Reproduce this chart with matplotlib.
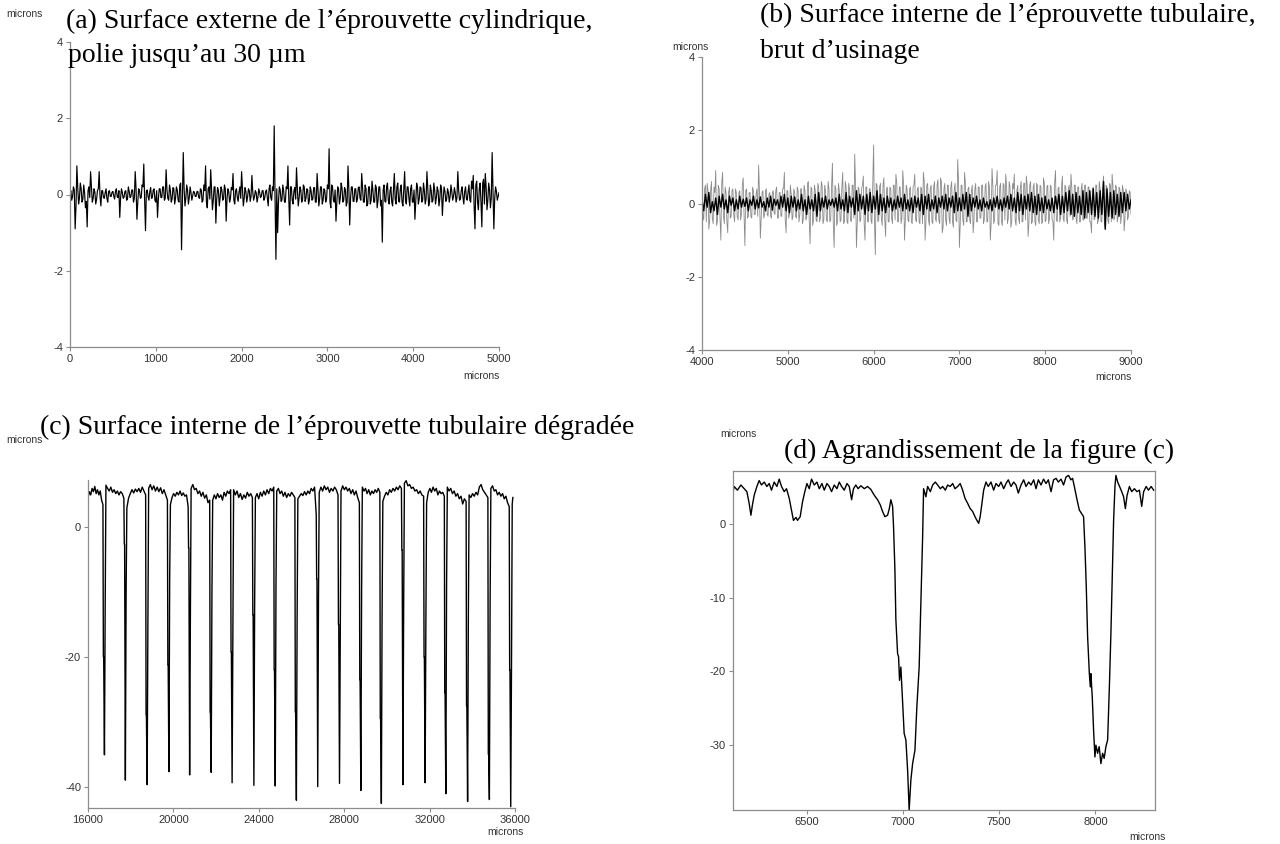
import numpy as np
import matplotlib
matplotlib.use("Agg")
import matplotlib.pyplot as plt

plt.rcParams['font.family'] = ['Liberation Sans', 'DejaVu Sans']
plt.rcParams['axes.unicode_minus'] = False

# ---- (a) external surface, cylindrical specimen, 0-5000 microns
# a_y: one value every 20 microns, a_mid: the values in between (every 20 microns, offset 10)
a_y = [0.05, -0.15, 0.2, -0.9, 0.75, -0.25, 0.3, -0.2, 0.25, -0.35, -0.85, 0.2, 0.6, -0.2, 0.15, -0.25, 0.1, 0.6, -0.3, 0.1, -0.1, 0.15, -0.2, 0.1, -0.05,
       0.08, -0.12, 0.15, -0.08, -0.6, 0.15, -0.1, 0.08, -0.15, 0.2, -0.08, 0.12, -0.2, 0.6, -0.65, 0.15, -0.1, 0.25, 0.8, -0.95, 0.12, -0.15, 0.18, -0.08, 0.15,
       -0.2, -0.6, 0.15, -0.08, 0.2, -0.15, 0.65, -0.1, 0.25, -0.2, 0.18, -0.25, 0.2, -0.15, 0.25, -1.45, 1.1, -0.3, 0.25, -0.25, 0.2, -0.15, 0.08, -0.05, 0.08,
       -0.08, 0.15, -0.2, 0.25, 0.75, -0.35, 0.2, 0.65, -0.4, 0.2, -0.75, 0.18, -0.3, 0.2, -0.15, 0.25, -0.7, 0.15, -0.2, 0.18, 0.55, -0.25, 0.15, -0.18, 0.2,
       0.6, -0.3, 0.18, -0.2, 0.15, -0.18, 0.5, -0.15, 0.1, -0.2, 0.15, -0.08, 0.1, -0.15, 0.08, -0.1, 0.15, -0.08, 0.2, 1.8, -1.7, -1.0, 0.2, -0.18, 0.25,
       -0.2, 0.2, 0.75, -0.8, 0.2, -0.25, 0.18, 0.7, -0.3, 0.2, -0.2, 0.25, -0.18, 0.15, -0.25, 0.2, -0.15, 0.18, -0.2, 0.55, -0.3, 0.2, -0.25, 0.15, -0.2,
       0.25, 1.2, -0.35, 0.2, -0.2, -0.7, 0.2, -0.25, 0.3, -0.2, 0.18, -0.3, 0.75, -0.8, 0.2, -0.18, 0.15, -0.2, 0.18, -0.1, 0.55, -0.2, 0.25, -0.3, 0.2,
       -0.25, 0.35, -0.2, 0.25, -0.35, 0.2, -0.3, -1.25, 0.25, -0.2, 0.3, -0.25, 0.2, -0.3, 0.55, -0.25, 0.3, -0.2, 0.25, -0.3, 0.6, -0.25, 0.2, -0.3, 0.25,
       -0.2, -0.65, 0.3, -0.25, 0.2, -0.2, 0.3, -0.25, 0.6, -0.3, 0.25, -0.2, 0.3, -0.25, 0.2, -0.3, 0.25, -0.55, 0.2, -0.18, 0.15, -0.2, 0.25, -0.15, 0.18,
       -0.2, 0.6, -0.15, 0.1, -0.08, 0.08, -0.1, 0.08, -0.15, 0.35, 0.5, -0.9, 0.35, -0.4, 0.3, -0.85, 0.4, 0.55, -0.4, 0.3, -0.35, 1.1, -0.9, 0.2, -0.15, 0.05]
a_mid = [0.1, -0.05, 0.12, -0.3, 0.2, -0.1, 0.15, -0.12, 0.05, -0.18, 0.1, -0.08, 0.2, -0.1, 0.06, -0.12, 0.15, -0.05, 0.1, -0.08,
         0.05, -0.1, 0.08, -0.05, 0.06, -0.04, 0.08, -0.06, 0.1, -0.08, 0.05, -0.07, 0.1, -0.12, 0.08, -0.05, 0.12, -0.1, 0.15, -0.2,
         0.1, -0.08, 0.2, -0.15, 0.1, -0.06, 0.08, -0.1, 0.12, -0.15, 0.1, -0.12, 0.15, -0.08, 0.2, -0.1, 0.12, -0.15, 0.1, -0.12,
         0.15, -0.1, 0.12, -0.2, 0.3, -0.25, 0.15, -0.1, 0.12, -0.08, 0.05, -0.04, 0.06, -0.05, 0.08, -0.1, 0.12, -0.15, 0.1, -0.2,
         0.15, -0.12, 0.1, -0.15, 0.2, -0.12, 0.1, -0.08, 0.12, -0.1, 0.15, -0.12, 0.08, -0.1, 0.12, -0.15, 0.1, -0.08, 0.06, -0.1,
         0.12, -0.1, 0.08, -0.06, 0.1, -0.05, 0.08, -0.06, 0.05, -0.08, 0.06, -0.05, 0.1, -0.08, 0.12, -0.3, 0.25, -0.15, 0.1, -0.12,
         0.15, -0.2, 0.12, -0.15, 0.1, -0.2, 0.15, -0.12, 0.2, -0.15, 0.1, -0.12, 0.15, -0.1, 0.12, -0.15, 0.2, -0.1, 0.12, -0.15,
         0.1, -0.12, 0.18, -0.2, 0.15, -0.1, 0.2, -0.15, 0.1, -0.12, 0.15, -0.2, 0.25, -0.15, 0.12, -0.2, 0.15, -0.1, 0.18, -0.15,
         0.12, -0.2, 0.15, -0.1, 0.2, -0.18, 0.15, -0.12, 0.2, -0.15, 0.18, -0.2, 0.15, -0.25, 0.2, -0.15, 0.12, -0.2, 0.18, -0.15,
         0.2, -0.15, 0.12, -0.18, 0.2, -0.15, 0.1, -0.2, 0.15, -0.12, 0.2, -0.18, 0.15, -0.2, 0.12, -0.15, 0.2, -0.1, 0.15, -0.2,
         0.12, -0.15, 0.2, -0.12, 0.18, -0.15, 0.1, -0.12, 0.15, -0.2, 0.1, -0.15, 0.12, -0.08, 0.1, -0.12, 0.15, -0.1, 0.08, -0.12,
         0.06, -0.05, 0.08, -0.06, 0.05, -0.08, 0.1, -0.12, 0.2, -0.25, 0.2, -0.15, 0.25, -0.2, 0.15, -0.3, 0.25, -0.2, 0.15, -0.2,
         0.3, -0.25, 0.2, -0.15, 0.12, -0.1, 0.15, -0.1, 0.08, -0.05]

# ---- (b) internal surface, tubular specimen, as machined, 4000-9000 microns
b_gray = [0.3, -0.45, 0.5, 0.55, -0.7, 0.35, -0.4, 0.45, 0.9, -0.5, 0.4, -1.0, 0.85, -0.55, 0.3, -0.8, 0.45, -0.35, 0.4, -0.5, 0.3, -0.45, 0.35, -0.3, 0.7,
          -1.15, 0.4, -0.35, 0.3, -0.4, 0.35, -0.3, 0.4, 1.05, -0.95, 0.3, -0.4, 0.35, -0.3, 0.25, -0.35, 0.3, -0.25, 0.35, -0.4, 0.3, -0.35, 0.4, 0.85, -0.8,
          0.35, -0.3, 0.25, -0.35, 0.3, -0.4, 0.35, -0.3, 0.4, -0.45, 0.35, -0.4, 0.6, -1.1, 0.4, -0.45, 0.35, -0.5, 0.45, -0.4, 0.5, -0.45, 0.35, -0.5, 0.4,
          -0.45, 1.1, -1.2, 0.4, -0.5, 0.35, -0.45, 0.85, -0.5, 0.45, -0.55, 0.4, -0.5, 0.5, 1.35, -1.2, 0.45, -0.5, 0.4, 0.75, -1.0, 0.45, -0.5, 0.4, -0.55,
          1.6, -1.4, 0.5, -0.45, 0.55, -0.6, 0.7, -0.9, 0.45, -0.5, 0.4, -0.55, 0.5, 0.8, -0.5, 0.45, -0.55, 0.9, -1.0, 0.5, -0.45, 0.4, -0.5, 0.45, 0.8,
          -0.5, 0.45, -0.55, 0.4, 0.85, -1.0, 0.5, -0.45, 0.4, -0.5, 0.45, -0.4, 0.5, -0.45, 0.7, -0.8, 0.4, -0.45, 0.5, -0.4, 0.45, -0.5, 0.4, -0.45, 1.2,
          -1.2, 0.5, -0.45, 0.85, -0.5, 0.4, -0.45, 0.35, -0.8, 0.4, -0.5, 0.45, -0.4, 0.5, -0.55, 0.45, -0.5, 0.6, -1.0, 0.95, -0.55, 0.5, 0.9, -0.6, 0.55,
          -0.6, 0.5, 0.8, -0.55, 0.6, -0.65, 0.55, 0.8, -0.6, 0.5, -0.55, 0.6, -0.5, 0.55, 0.75, -0.9, 0.5, -0.55, 0.45, -0.5, 0.55, -0.45, 0.5, -0.55, 0.7,
          -0.5, 0.45, -0.55, 0.5, -0.45, -1.0, 0.9, -0.5, 0.45, -0.4, 0.75, -0.5, 0.45, -0.55, 0.5, 0.8, -0.45, 0.5, -0.4, 0.45, -0.5, 0.4, -0.45, 0.5, -0.4,
          0.45, -0.5, -0.8, 0.45, -0.4, 0.5, -0.45, 0.4, -0.5, 0.75, -0.7, 0.45, -0.55, 0.5, 0.8, -0.45, 0.5, -0.5, 0.45, -0.55, 0.5, -0.75, 0.4, -0.45, 0.35, -0.3]
b_gray_mid = [-0.3, 0.4, -0.5, 0.35, -0.45, 0.6, -0.55, 0.3, -0.6, 0.5, -0.4, 0.55, -0.35, 0.45, -0.5, 0.3, -0.4, 0.35, -0.3, 0.4,
              -0.35, 0.3, -0.45, 0.5, -0.3, 0.35, -0.4, 0.3, -0.35, 0.45, -0.3, 0.25, -0.35, 0.3, -0.4, 0.35, -0.3, 0.4, -0.35, 0.3,
              -0.4, 0.35, -0.3, 0.45, -0.4, 0.3, -0.35, 0.4, -0.45, 0.35, -0.4, 0.5, -0.45, 0.4, -0.35, 0.45, -0.5, 0.4, -0.55, 0.5,
              -0.45, 0.55, -0.5, 0.45, -0.6, 0.5, -0.45, 0.55, -0.5, 0.6, -0.55, 0.5, -0.45, 0.6, -0.5, 0.45, -0.55, 0.5, -0.6, 0.55,
              -0.5, 0.45, -0.55, 0.6, -0.5, 0.55, -0.45, 0.5, -0.4, 0.45, -0.5, 0.4, -0.45, 0.5, -0.55, 0.45, -0.5, 0.4, -0.45, 0.5,
              -0.45, 0.55, -0.5, 0.45, -0.4, 0.5, -0.45, 0.4, -0.5, 0.45, -0.4, 0.5, -0.45, 0.55, -0.5, 0.45, -0.4, 0.5, -0.45, 0.4,
              -0.5, 0.45, -0.55, 0.5, -0.45, 0.4, -0.5, 0.45, -0.55, 0.6, -0.5, 0.55, -0.6, 0.5, -0.55, 0.6, -0.5, 0.65, -0.55, 0.6,
              -0.65, 0.55, -0.6, 0.5, -0.55, 0.6, -0.65, 0.55, -0.5, 0.6, -0.55, 0.5, -0.6, 0.55, -0.5, 0.45, -0.55, 0.5, -0.45, 0.55,
              -0.5, 0.45, -0.4, 0.5, -0.45, 0.55, -0.5, 0.45, -0.55, 0.5, -0.45, 0.5, -0.55, 0.45, -0.5, 0.55, -0.45, 0.5, -0.4, 0.45,
              -0.5, 0.4, -0.45, 0.35, -0.4, 0.45, -0.5, 0.55, -0.45, 0.5, -0.55, 0.6, -0.5, 0.55, -0.6, 0.5, -0.55, 0.45, -0.5, 0.55,
              -0.45, 0.5, -0.4, 0.45, -0.5, 0.55, -0.45, 0.4, -0.5, 0.45, -0.4, 0.5, -0.45, 0.4, -0.35, 0.45, -0.4, 0.5, -0.55, 0.45,
              -0.5, 0.55, -0.45, 0.5, -0.4, 0.45, -0.5, 0.4, -0.45, 0.5, -0.55, 0.6, -0.5, 0.45, -0.55, 0.5, -0.45, 0.55, -0.5, 0.45,
              -0.4, 0.45, -0.35, 0.4, -0.3, 0.35, -0.4, 0.3, -0.35, 0.3]
b_black = [0.1, -0.2, 0.25, -0.1, 0.3, -0.25, 0.05, -0.2, 0.15, -0.3, 0.2, -0.1, 0.25, -0.15, 0.1, -0.25, 0.2, -0.05, 0.15, -0.2, 0.1, -0.15, 0.2, -0.1, 0.12,
           -0.08, 0.15, -0.2, 0.1, -0.05, 0.2, -0.15, 0.1, -0.12, 0.18, -0.1, 0.05, -0.2, 0.15, -0.1, 0.2, -0.18, 0.12, -0.05, 0.1, -0.15, 0.2, -0.1, 0.25, -0.2,
           0.15, -0.25, 0.2, -0.1, 0.18, -0.2, 0.1, -0.15, 0.25, -0.2, 0.1, -0.3, 0.2, -0.15, 0.1, -0.2, 0.25, -0.35, 0.3, -0.2, 0.15, -0.1, 0.2, -0.15, 0.1,
           -0.05, 0.12, -0.1, 0.15, -0.2, 0.25, -0.15, 0.1, -0.2, 0.3, -0.25, 0.2, -0.1, 0.15, -0.3, 0.35, -0.2, 0.25, -0.15, 0.2, -0.3, 0.25, -0.2, 0.3, -0.25,
           0.2, -0.15, 0.35, -0.3, 0.25, -0.2, 0.15, -0.25, 0.2, -0.1, 0.15, -0.2, 0.1, -0.15, 0.2, -0.1, 0.15, -0.2, 0.25, -0.15, 0.1, -0.2, 0.15, -0.25, 0.2,
           -0.1, 0.15, -0.2, 0.25, -0.3, 0.2, -0.15, 0.25, -0.2, 0.1, -0.15, 0.2, -0.25, 0.15, -0.1, 0.2, -0.15, 0.25, -0.2, 0.15, -0.1, 0.2, -0.25, 0.3, -0.2,
           0.15, -0.2, 0.25, -0.15, 0.3, -0.35, 0.25, -0.2, 0.15, -0.1, 0.2, -0.15, 0.1, -0.2, 0.15, -0.1, 0.05, -0.15, 0.1, -0.2, 0.15, -0.1, 0.2, -0.15, 0.1,
           -0.2, 0.15, -0.1, 0.2, -0.15, 0.25, -0.2, 0.15, -0.25, 0.3, -0.2, 0.25, -0.3, 0.2, -0.15, 0.25, -0.2, 0.3, -0.25, 0.2, -0.3, 0.25, -0.2, 0.15, -0.25,
           0.2, -0.15, 0.1, -0.2, 0.15, -0.25, 0.2, -0.15, 0.25, -0.3, 0.2, -0.25, 0.3, -0.2, 0.35, -0.3, 0.25, -0.35, 0.3, -0.25, 0.2, -0.3, 0.35, -0.4, 0.3,
           -0.25, 0.35, -0.3, 0.4, -0.35, 0.3, -0.4, 0.35, -0.3, 0.6, -0.7, 0.4, -0.35, 0.3, -0.4, 0.35, -0.3, 0.25, -0.35, 0.3, -0.25, 0.3, -0.2, 0.25, -0.15, 0.1]

# ---- (c) degraded internal surface: groove positions, depths and flank levels
dip_x = [16770, 17750, 18770, 19790, 20760, 21770, 22750, 23770, 24770, 25760,
         26760, 27780, 28780, 29740, 30750, 31790, 32760, 33780, 34800, 35800]
dip_depth = [-35.1, -39.0, -39.7, -37.7, -38.2, -37.8, -39.4, -39.8, -39.9, -42.1,
             -40.0, -39.5, -40.6, -42.6, -39.7, -39.4, -41.1, -42.3, -42.0, -43.1]
dip_kink = [-20, -2.6, -28.9, -21.2, -3.2, -28.5, -19.2, -13.5, -22, -28.5,
            -8, -15, -23.5, -29.5, -3.5, -20, -25.5, -27.5, -35, -22]
dip_rise = [-12, -10, -15, -8, -14, -10, -18, -12, -9, -14,
            -11, -16, -10, -13, -12, -15, -9, -14, -11, -22]
plateaus = [
    [4.5, 5.5, 5.0, 6.0, 5.5, 6.3, 5.2, 5.8, 5.0, 5.6, 4.2, 3.5],
    [6.5, 6.0, 5.6, 6.2, 5.4, 5.8, 5.2, 5.6, 5.0, 5.5, 5.2, 4.5],
    [3.0, 4.5, 5.2, 5.8, 5.3, 5.9, 5.5, 6.0, 5.4, 6.2, 5.6, 5.0],
    [6.0, 6.6, 5.8, 6.4, 5.6, 6.2, 5.5, 6.1, 5.2, 5.8, 5.0, 4.2],
    [3.5, 4.6, 5.2, 4.8, 5.4, 5.0, 5.6, 4.9, 5.3, 4.8, 5.0, 3.2],
    [6.0, 6.6, 5.8, 6.0, 5.2, 5.6, 4.8, 5.4, 4.5, 5.0, 3.8, 4.2],
    [4.2, 5.0, 4.4, 5.2, 4.6, 5.0, 4.2, 5.4, 4.8, 5.6, 5.2, 5.8],
    [5.8, 5.0, 5.6, 4.6, 5.2, 4.3, 5.0, 4.5, 5.4, 4.8, 5.2, 4.6],
    [4.6, 5.2, 4.4, 5.4, 4.8, 5.6, 5.0, 5.8, 5.2, 6.0, 5.6, 6.2],
    [5.6, 6.0, 5.2, 5.6, 4.8, 5.4, 4.6, 5.2, 4.8, 5.4, 5.0, 4.6],
    [4.4, 4.8, 5.2, 4.9, 5.5, 5.0, 5.6, 5.2, 6.0, 5.6, 6.2, 2.0],
    [5.4, 6.2, 5.6, 6.4, 5.8, 6.2, 5.4, 6.0, 5.6, 6.2, 5.8, 5.0],
    [5.6, 6.4, 5.8, 6.2, 5.6, 6.0, 5.2, 5.8, 5.0, 5.6, 4.6, 3.8],
    [6.2, 5.6, 6.0, 5.2, 5.8, 5.0, 5.6, 5.2, 5.8, 5.4, 6.0, 5.4],
    [4.0, 4.8, 5.4, 5.0, 5.8, 5.4, 6.0, 5.6, 6.2, 5.8, 6.4, 6.0],
    [6.8, 7.2, 6.4, 6.6, 6.0, 6.2, 5.6, 5.8, 5.2, 5.6, 5.0, 4.8],
    [3.8, 5.4, 6.0, 5.4, 6.2, 5.6, 6.0, 5.0, 5.6, 5.2, 5.4, 4.8],
    [6.2, 5.6, 6.0, 5.2, 5.6, 4.8, 5.2, 4.4, 4.8, 3.6, 4.4, 4.0],
    [5.0, 4.6, 5.2, 4.8, 5.4, 5.0, 6.2, 6.6, 5.8, 5.4, 5.0, 4.6],
    [6.0, 6.4, 5.6, 5.8, 5.0, 5.4, 4.8, 5.2, 4.4, 4.8, 3.8, 3.2],
    [3.6, 4.6],
]

# ---- (d) zoom of (c), 6100-8300 microns
d_x = [6115, 6124, 6141, 6159, 6176, 6190, 6202, 6211, 6219, 6228, 6242, 6254, 6266, 6280, 6294, 6306, 6318,
       6332, 6346, 6358, 6370, 6384, 6396, 6410, 6422, 6432, 6445, 6453, 6467, 6479, 6491, 6502, 6514,
       6526, 6540, 6554, 6566, 6580, 6592, 6606, 6618, 6630, 6644, 6658, 6670, 6682, 6696, 6710, 6722,
       6734, 6744, 6756, 6768, 6782, 6800, 6817, 6834, 6852, 6869, 6883, 6895, 6907, 6921, 6930, 6938,
       6947, 6952, 6959, 6964, 6973, 6978, 6983, 6990, 6999, 7007, 7016, 7025, 7033, 7042, 7051, 7063,
       7073, 7085, 7094, 7103, 7108, 7120, 7129, 7143, 7155, 7169, 7181, 7195, 7207, 7221, 7233, 7246,
       7259, 7271, 7285, 7298, 7311, 7323, 7337, 7350, 7363, 7375, 7385, 7394, 7402, 7409, 7420, 7432,
       7444, 7458, 7472, 7484, 7498, 7510, 7524, 7536, 7548, 7562, 7576, 7588, 7600, 7614, 7628, 7640,
       7654, 7666, 7680, 7692, 7704, 7718, 7731, 7744, 7756, 7770, 7783, 7796, 7808, 7822, 7835, 7848,
       7861, 7873, 7882, 7891, 7905, 7917, 7929, 7939, 7946, 7953, 7960, 7969, 7974, 7977, 7984, 7991,
       7998, 8003, 8012, 8020, 8029, 8038, 8046, 8055, 8064, 8073, 8081, 8087, 8095, 8102, 8107, 8116,
       8126, 8137, 8147, 8156, 8165, 8177, 8189, 8203, 8216, 8229, 8241, 8251, 8264, 8276, 8290, 8303]
d_y = [3.9, 5.1, 4.6, 5.3, 4.8, 4.4, 2.8, 1.2, 2.6, 3.9, 5.1, 5.9, 5.3, 5.7, 5.1, 5.5, 4.6,
       5.7, 5.1, 6.1, 5.1, 4.4, 4.8, 3.5, 1.9, 0.5, 0.9, 0.5, 1.0, 3.0, 4.4, 5.5, 4.8,
       6.1, 5.3, 5.7, 4.8, 5.5, 4.6, 5.5, 5.1, 4.4, 5.3, 4.8, 5.7, 5.1, 4.6, 5.5, 5.1,
       3.3, 4.8, 5.3, 4.8, 5.2, 4.8, 5.1, 4.7, 3.9, 3.3, 2.6, 1.7, 1.0, 1.2, 2.1, 3.3,
       2.4, -0.4, -6.2, -13.0, -17.6, -18.0, -21.2, -19.4, -24.3, -28.4, -29.3, -33.4, -38.8, -34.7, -32.5, -30.7,
       -24.8, -19.4, -10.7, -1.7, 4.8, 3.7, 5.1, 4.4, 5.3, 5.7, 5.3, 4.8, 5.1, 4.6, 5.3, 5.1,
       5.5, 4.8, 5.1, 5.5, 4.6, 3.5, 2.8, 2.1, 1.7, 1.0, 0.5, 0.1, 1.0, 2.4, 4.6, 5.7,
       5.1, 5.7, 4.6, 5.5, 5.1, 5.7, 4.8, 5.5, 6.0, 5.1, 5.7, 5.3, 4.2, 5.3, 6.0, 5.1,
       5.7, 5.3, 6.0, 4.8, 6.0, 5.3, 6.1, 5.5, 6.0, 4.4, 6.0, 6.2, 5.7, 6.1, 5.3, 6.4,
       6.6, 6.0, 6.2, 5.1, 3.3, 1.9, 1.4, 1.0, -3.1, -8.5, -15.3, -20.3, -22.1, -20.3, -23.4, -28.0,
       -31.6, -30.0, -31.1, -30.2, -32.5, -31.1, -31.8, -30.2, -29.3, -22.1, -14.8, -8.5, 0.5, 5.1, 6.6, 5.7,
       5.1, 4.4, 3.7, 2.1, 3.9, 5.1, 4.4, 4.8, 4.4, 4.6, 2.4, 4.4, 5.1, 4.6, 5.1, 4.6]

W, H = 1280, 844
fig = plt.figure(figsize=(W / 100, H / 100), dpi=100)
serif = ['Liberation Serif', 'DejaVu Serif']
axis_grey = '#8c8c8c'


def add_axes(l, t, r, b):
    return fig.add_axes([l / W, 1 - b / H, (r - l) / W, (b - t) / H])


def style(ax, box=False):
    ax.spines['top'].set_visible(box)
    ax.spines['right'].set_visible(box)
    for s in ax.spines.values():
        s.set_color(axis_grey)
        s.set_linewidth(0.9)
    ax.tick_params(direction='out', length=3, width=0.8, color=axis_grey,
                   labelsize=8, labelcolor='#333333', pad=2)


def units(ax, xl, yl):
    ax.text(xl[0], xl[1], 'microns', transform=ax.transAxes, ha='center', va='center',
            fontsize=7.5, color='#333333')
    ax.text(yl[0], yl[1], 'microns', transform=ax.transAxes, ha='center', va='center',
            fontsize=7.5, color='#333333')


def interleave(x0, x1, main, mid):
    xs = np.linspace(x0, x1, len(main))
    step = xs[1] - xs[0]
    x = np.empty(len(main) + len(mid))
    y = np.empty(len(main) + len(mid))
    x[0::2], y[0::2] = xs, main
    x[1::2], y[1::2] = xs[:len(mid)] + step / 2, mid
    return x, y


# (a)
ax = add_axes(70, 42, 499, 347)
x, y = interleave(0, 5000, a_y, a_mid)
ax.plot(x, y, color='black', lw=0.85)
ax.set_xlim(0, 5000)
ax.set_ylim(-4, 4)
ax.set_xticks(range(0, 5001, 1000))
ax.set_yticks([-4, -2, 0, 2, 4])
style(ax)
units(ax, (0.96, -0.095), (-0.105, 1.092))

# (b)
ax = add_axes(702, 57, 1131, 350)
x, y = interleave(4000, 9000, b_gray, b_gray_mid)
ax.plot(x, y, color='#8a8a8a', lw=0.6)
ax.plot(np.linspace(4000, 9000, len(b_black)), b_black, color='black', lw=1.0)
ax.set_xlim(4000, 9000)
ax.set_ylim(-4, 4)
ax.set_xticks(range(4000, 9001, 1000))
ax.set_yticks([-4, -2, 0, 2, 4])
style(ax)
units(ax, (0.958, -0.092), (-0.028, 1.034))

# (c) build the profile from plateaus and groove flanks
cx, cy = [], []
starts = [16000] + [d + 70 for d in dip_x]
ends = [d - 70 for d in dip_x] + [35900]
for k, seg in enumerate(plateaus):
    cx += list(np.linspace(starts[k], ends[k], len(seg)))
    cy += seg
    if k < len(dip_x):
        d = dip_x[k]
        cx += [d - 50, d - 35, d, d + 35]
        cy += [dip_kink[k], dip_kink[k], dip_depth[k], dip_rise[k]]
ax = add_axes(88, 480, 515, 808)
ax.plot(cx, cy, color='black', lw=1.0)
ax.set_xlim(16000, 36000)
ax.set_ylim(-43.3, 7.3)
ax.set_xticks(range(16000, 36001, 4000))
ax.set_yticks([-40, -20, 0])
style(ax)
units(ax, (0.977, -0.073), (-0.148, 1.122))

# (d)
ax = add_axes(733, 471, 1155, 810)
ax.plot(d_x, d_y, color='black', lw=1.0)
ax.set_xlim(6118, 8310)
ax.set_ylim(-38.8, 7.2)
ax.set_xticks([6500, 7000, 7500, 8000])
ax.set_yticks([-30, -20, -10, 0])
style(ax, box=True)
units(ax, (0.983, -0.08), (0.012, 1.109))

# titles
tkw = dict(family=serif, fontsize=20, va='center', ha='left', color='black')
fig.text(66 / W, 1 - 21 / H, '(a) Surface externe de l’éprouvette cylindrique,', **tkw)
fig.text(68 / W, 1 - 56 / H, 'polie jusqu’au 30 µm', **tkw)
fig.text(760 / W, 1 - 15 / H, '(b) Surface interne de l’éprouvette tubulaire,', **tkw)
fig.text(760 / W, 1 - 51 / H, 'brut d’usinage', **tkw)
fig.text(40 / W, 1 - 427 / H, '(c) Surface interne de l’éprouvette tubulaire dégradée', **tkw)
fig.text(784 / W, 1 - 451 / H, '(d) Agrandissement de la figure (c)', **tkw)

fig.savefig('out.png', dpi=100)
